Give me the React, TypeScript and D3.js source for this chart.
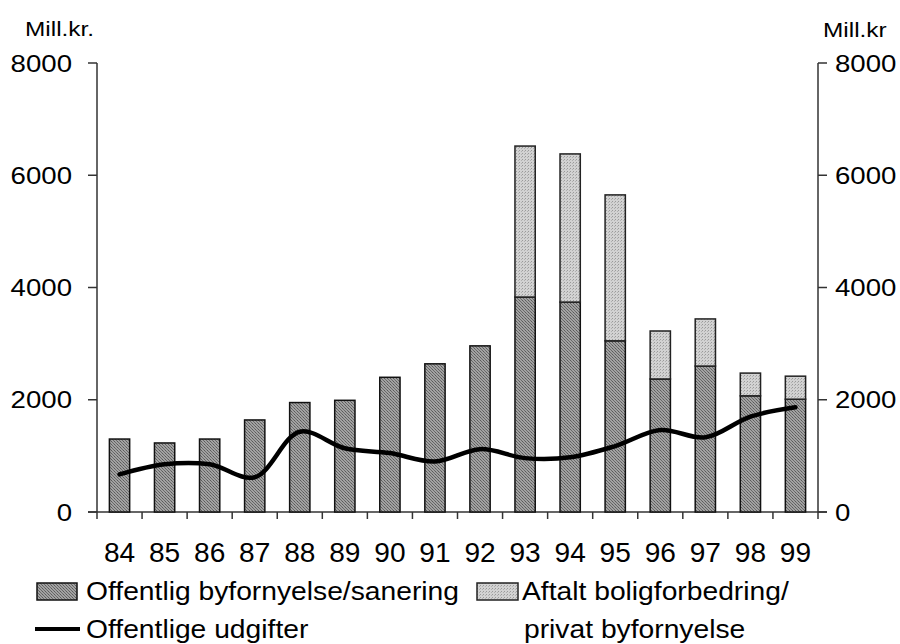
import React from "react";
import * as d3 from "d3";

const years = ["84","85","86","87","88","89","90","91","92","93","94","95","96","97","98","99"];
const offentligByfornyelse = [1300,1230,1300,1640,1950,1990,2400,2640,2960,3830,3740,3050,2370,2600,2070,2010];
const aftaltBoligforbedring = [0,0,0,0,0,0,0,0,0,2690,2640,2600,855,840,405,410];
const offentligeUdgifter = [670,850,850,620,1430,1135,1050,900,1120,960,975,1175,1460,1330,1700,1865];
const yTicks = [0,2000,4000,6000,8000];

const W = 900, H = 644;
const M = { left: 97, right: 82, top: 63, bottom: 132 };
const FONT = "Liberation Sans, Arial, sans-serif";

type TProps = { x: number; y: number; size: number; sx: number; anchor?: string; dy?: string; children: React.ReactNode };
function T({ x, y, size, sx, anchor = "start", dy, children }: TProps) {
  return (
    <text transform={`translate(${x},${y}) scale(${sx},1)`} fontSize={size} textAnchor={anchor} dy={dy} fill="#000">
      {children}
    </text>
  );
}

export default function App() {
  const x = d3.scaleBand<string>().domain(years).range([M.left, W - M.right]).paddingInner(0.55).paddingOuter(0.275);
  const y = d3.scaleLinear().domain([0, 8000]).range([H - M.bottom, M.top]);
  const bw = x.bandwidth();
  const cx = (yr: string) => (x(yr) as number) + bw / 2;
  const line = d3.line<number>().x((_, i) => cx(years[i])).y((v) => y(v)).curve(d3.curveCatmullRom.alpha(0.5));
  const step = x.step();
  const x0 = M.left, x1 = W - M.right, yb = y(0);
  const axisColor = "#333";

  return (
    <svg width={W} height={H} style={{ position: "absolute", left: 0, top: 0, background: "#fff" }} fontFamily={FONT}>
      <defs>
        <pattern id="pDark" width="3" height="3" patternUnits="userSpaceOnUse">
          <rect width="3" height="3" fill="#a2a2a2" />
          <rect width="1" height="1" fill="#5a5a5a" />
          <rect x="1" y="1" width="1" height="1" fill="#6a6a6a" />
          <rect x="2" y="2" width="1" height="1" fill="#6a6a6a" />
        </pattern>
        <pattern id="pLight" width="3" height="3" patternUnits="userSpaceOnUse">
          <rect width="3" height="3" fill="#d2d2d2" />
          <rect width="1" height="1" fill="#9a9a9a" />
          <rect x="2" y="1" width="1" height="1" fill="#b0b0b0" />
        </pattern>
      </defs>

      {/* axes */}
      <line x1={x0} x2={x0} y1={y(8000)} y2={yb} stroke={axisColor} strokeWidth={1.5} />
      <line x1={x1} x2={x1} y1={y(8000)} y2={yb} stroke={axisColor} strokeWidth={1.5} />
      <line x1={x0 - 9} x2={x1 + 9} y1={yb} y2={yb} stroke={axisColor} strokeWidth={1.5} />
      {yTicks.map((t) => (
        <g key={t}>
          <line x1={x0 - 9} x2={x0} y1={y(t)} y2={y(t)} stroke={axisColor} strokeWidth={1.5} />
          <line x1={x1} x2={x1 + 9} y1={y(t)} y2={y(t)} stroke={axisColor} strokeWidth={1.5} />
          <T x={72} y={y(t)} dy="0.36em" anchor="end" size={24} sx={1.15}>{t}</T>
          <T x={835} y={y(t)} dy="0.36em" size={24} sx={1.15}>{t}</T>
        </g>
      ))}
      {years.map((yr, i) => (
        <line key={yr} x1={M.left + step * i} x2={M.left + step * i} y1={yb} y2={yb + 7} stroke={axisColor} strokeWidth={1.5} />
      ))}
      <line x1={x1} x2={x1} y1={yb} y2={yb + 7} stroke={axisColor} strokeWidth={1.5} />

      <T x={25} y={36} size={20} sx={1.22}>Mill.kr.</T>
      <T x={823} y={37} size={20} sx={1.22}>Mill.kr</T>

      {/* bars */}
      {years.map((yr, i) => {
        const a = offentligByfornyelse[i];
        const b = aftaltBoligforbedring[i];
        return (
          <g key={yr}>
            <rect x={x(yr)} y={y(a)} width={bw} height={yb - y(a)} fill="url(#pDark)" stroke="#111" strokeWidth={1.5} />
            {b > 0 && (
              <rect x={x(yr)} y={y(a + b)} width={bw} height={y(a) - y(a + b)} fill="url(#pLight)" stroke="#222" strokeWidth={1.5} />
            )}
          </g>
        );
      })}

      <path d={line(offentligeUdgifter) || ""} fill="none" stroke="#000" strokeWidth={4.5} strokeLinejoin="round" strokeLinecap="round" />

      {/* x labels */}
      {years.map((yr) => (
        <T key={yr} x={cx(yr)} y={562} anchor="middle" size={27} sx={1.04}>{yr}</T>
      ))}

      {/* legend */}
      <rect x={37} y={583} width={40} height={17} fill="url(#pDark)" stroke="#111" strokeWidth={1.5} />
      <T x={86} y={600} size={25} sx={1.13}>Offentlig byfornyelse/sanering</T>
      <rect x={477} y={583} width={41} height={17} fill="url(#pLight)" stroke="#222" strokeWidth={1.5} />
      <T x={522} y={600} size={25} sx={1.13}>Aftalt boligforbedring/</T>
      <T x={524} y={638} size={25} sx={1.13}>privat byfornyelse</T>
      <line x1={35} x2={80} y1={629} y2={629} stroke="#000" strokeWidth={4} />
      <T x={86} y={638} size={25} sx={1.13}>Offentlige udgifter</T>
    </svg>
  );
}
